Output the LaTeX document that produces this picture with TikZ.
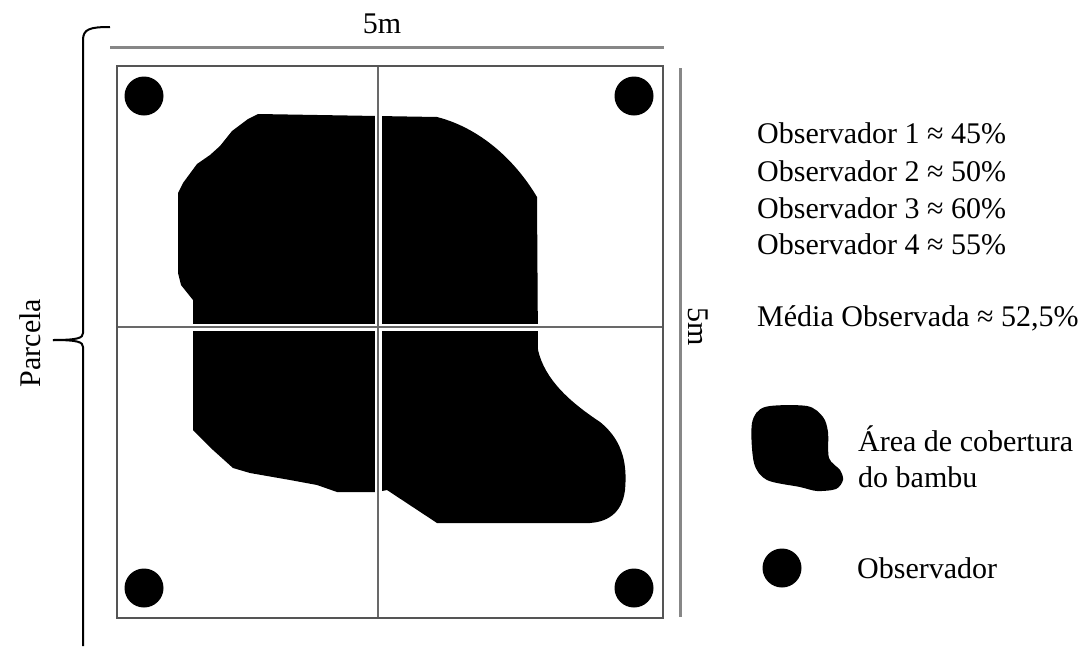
\documentclass[tikz,border=0pt]{standalone}
\usepackage{fontspec}
\setmainfont{Liberation Serif}
\usetikzlibrary{positioning}
\definecolor{FrameGray}{RGB}{85,85,85}
\definecolor{GridGray}{RGB}{105,105,105}
\definecolor{DimGray}{RGB}{135,135,135}

\begin{document}
\begin{tikzpicture}[x=1pt,y=-1pt,font=\fontsize{30}{36}\selectfont,
  observer/.style={circle,fill=black,minimum size=39pt,inner sep=0pt},
  legendtext/.style={anchor=west,inner sep=0pt}]
\useasboundingbox (0,0) rectangle (1088,646);
\fill[black] (258,114) -- (437,117) .. controls (480,128) and (515,160) .. (537,197) -- (538,350) .. controls (545,380) and (570,402) .. (600,422) .. controls (625,442) and (627,468) .. (625,490) .. controls (622,515) and (605,522) .. (590,523) -- (437,523) -- (387,490) -- (377,492) -- (337,492) -- (317,485) -- (290,480) -- (250,473) -- (233,468) -- (213,450) -- (193,430) -- (193,300) -- (181,285) -- (178,273) -- (178,193) -- (183,183) -- (197,164) -- (210,155) -- (220,146) -- (232,131) -- (248,119) -- cycle;
\draw[white,line width=7pt] (378,66) -- (378,618) (117,327) -- (663,327);
\draw[GridGray,line width=2.5pt] (378,66) -- (378,618) (117,327) -- (663,327);
\draw[FrameGray,line width=2.5pt] (117,66) rectangle (663,618);
\node[observer] (o1) at (144,96) {};
\node[observer] (o2) at (634,96) {};
\node[observer] (o3) at (144,588) {};
\node[observer] (o4) at (634,588) {};
\draw[DimGray,line width=3pt] (110,47) -- (664,47);
\draw[DimGray,line width=3pt] (680,68) -- (680,617);
\node (dimtop) at (382,24) {5m};
\node[rotate=-90] (dimright) at (698,327) {5m};
\draw[black,line width=2pt] (110,27) .. controls (90,27) and (83,29) .. (83,40) -- (83,333) .. controls (83,338) and (78,340) .. (53,340);
\draw[black,line width=2pt] (53,340) .. controls (78,340) and (83,342) .. (83,347) -- (83,646);
\node[rotate=90] (parcela) at (30,343) {Parcela};
\node[legendtext] (obs1) at (757,133) {Observador 1 ≈ 45\%};
\node[legendtext] (obs2) at (757,171) {Observador 2 ≈ 50\%};
\node[legendtext] (obs3) at (757,208) {Observador 3 ≈ 60\%};
\node[legendtext] (obs4) at (757,244) {Observador 4 ≈ 55\%};
\node[legendtext] (media) at (757,318) {Média Observada ≈ 52,5\%};
\fill[black] plot[smooth cycle] coordinates {(765,407) (807,406) (823,417) (828,432) (829,458) (840,470) (843,480) (836,489) (817,491) (800,487) (767,480) (754,463) (752,423)};
\node[legendtext,align=left] (area) at (858,457) {Área de cobertura\\do bambu};
\node[observer] (legobs) at (782,568) {};
\node[legendtext,right=75pt of legobs.center,anchor=west] (obslabel) {Observador};
\end{tikzpicture}
\end{document}
